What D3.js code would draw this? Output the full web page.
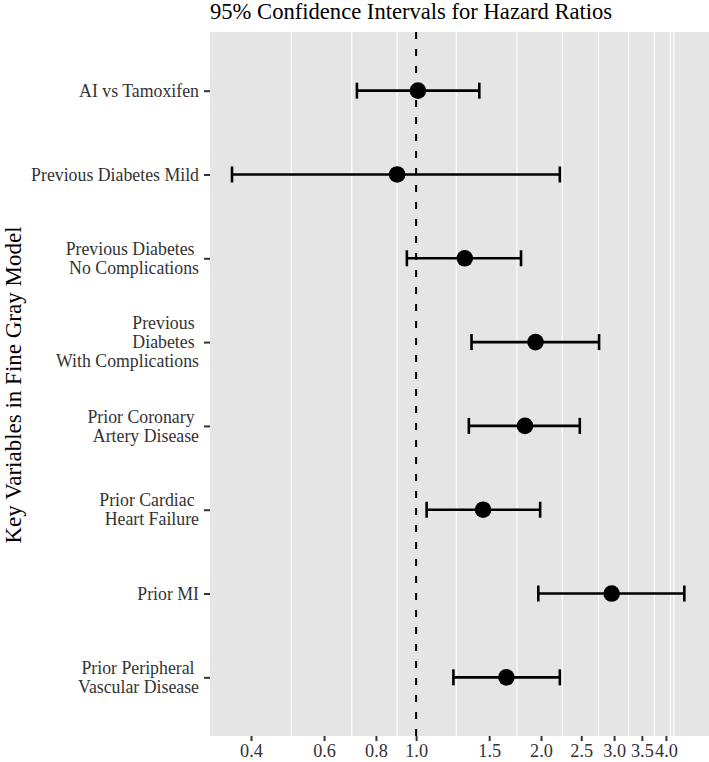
<!DOCTYPE html>
<html>
<head>
<meta charset="utf-8">
<script src="https://cdn.jsdelivr.net/npm/d3@7"></script>
<style>
  html, body { margin: 0; padding: 0; background: #fff; }
  svg { display: block; }
  text { font-family: "Liberation Serif", "Times New Roman", serif; }
</style>
</head>
<body>
<div id="chart"></div>
<script>
// Variables in the model (top to bottom); "\n" splits lines
const variables = [
  'AI vs Tamoxifen',
  'Previous Diabetes Mild',
  'Previous Diabetes \nNo Complications',
  'Previous \nDiabetes \nWith Complications',
  'Prior Coronary \nArtery Disease',
  'Prior Cardiac \nHeart Failure',
  'Prior MI',
  'Prior Peripheral \nVascular Disease'
];

// hazard ratio and 95% CI
const hazardRatio = [1.01, 0.90, 1.31, 1.94, 1.83, 1.45, 2.96, 1.65];
const ciLower     = [0.72, 0.36, 0.95, 1.36, 1.34, 1.06, 1.97, 1.23];
const ciUpper     = [1.42, 2.22, 1.79, 2.76, 2.48, 1.99, 4.43, 2.22];

// x axis
const xTicks = [0.4, 0.6, 0.8, 1.0, 1.5, 2.0, 2.5, 3.0, 3.5, 4.0];
const xGrid = [0.5, 0.7, 0.9, 1.25, 1.75, 2.25, 2.75, 3.25, 3.75, 4.1, 4.18];
const xDomain = [0.3186, 5.08];
const refLine = 1;

const width = 709, height = 762;
const margin = { top: 32, right: 0, bottom: 26, left: 210 };
const serif = '"Liberation Serif", "Times New Roman", serif';

const svg = d3.select('#chart').append('svg')
  .attr('width', width)
  .attr('height', height);

const x = d3.scaleLog()
  .domain(xDomain)
  .range([margin.left, width - margin.right]);

const y = d3.scalePoint()
  .domain(variables)
  .range([margin.top, height - margin.bottom])
  .padding(0.7);

// panel background
svg.append('rect')
  .attr('x', margin.left)
  .attr('y', margin.top)
  .attr('width', width - margin.right - margin.left)
  .attr('height', height - margin.bottom - margin.top)
  .attr('fill', '#e5e5e5');

// grid lines
svg.append('g')
  .selectAll('line')
  .data(xGrid)
  .join('line')
  .attr('x1', d => x(d))
  .attr('x2', d => x(d))
  .attr('y1', margin.top)
  .attr('y2', height - margin.bottom)
  .attr('stroke', '#fff')
  .attr('stroke-width', 1.1);

// reference line at HR = 1
svg.append('line')
  .attr('x1', x(refLine))
  .attr('x2', x(refLine))
  .attr('y1', margin.top)
  .attr('y2', height - margin.bottom)
  .attr('stroke', '#000')
  .attr('stroke-width', 2)
  .attr('stroke-dasharray', '7 10');

const rows = variables.map((v, i) => ({
  name: v, hr: hazardRatio[i], lo: ciLower[i], hi: ciUpper[i]
}));

const capH = 8;
const bars = svg.append('g')
  .attr('stroke', '#000')
  .attr('stroke-width', 2.6);

bars.selectAll('.ci')
  .data(rows)
  .join('line')
  .attr('class', 'ci')
  .attr('x1', d => x(d.lo))
  .attr('x2', d => x(d.hi))
  .attr('y1', d => y(d.name))
  .attr('y2', d => y(d.name));

bars.selectAll('.capL')
  .data(rows)
  .join('line')
  .attr('class', 'capL')
  .attr('x1', d => x(d.lo))
  .attr('x2', d => x(d.lo))
  .attr('y1', d => y(d.name) - capH)
  .attr('y2', d => y(d.name) + capH);

bars.selectAll('.capR')
  .data(rows)
  .join('line')
  .attr('class', 'capR')
  .attr('x1', d => x(d.hi))
  .attr('x2', d => x(d.hi))
  .attr('y1', d => y(d.name) - capH)
  .attr('y2', d => y(d.name) + capH);

svg.append('g')
  .selectAll('circle')
  .data(rows)
  .join('circle')
  .attr('cx', d => x(d.hr))
  .attr('cy', d => y(d.name))
  .attr('r', 8.3)
  .attr('fill', '#000');

// x axis
const xAxis = svg.append('g')
  .attr('transform', `translate(0,${height - margin.bottom})`)
  .call(d3.axisBottom(x)
    .tickValues(xTicks)
    .tickFormat(d3.format('.1f'))
    .tickSize(5)
    .tickPadding(3));
xAxis.attr('font-family', serif).attr('font-size', 18.3);
xAxis.select('.domain').remove();
xAxis.selectAll('.tick line').attr('stroke', '#333').attr('stroke-width', 2);
xAxis.selectAll('.tick text').attr('fill', '#333');

// y axis with multi-line labels
const yAxis = svg.append('g')
  .attr('transform', `translate(${margin.left},0)`)
  .call(d3.axisLeft(y).tickSize(6).tickPadding(5));
yAxis.attr('font-family', serif).attr('font-size', 17.8);
yAxis.select('.domain').remove();
yAxis.selectAll('.tick line').attr('stroke', '#333').attr('stroke-width', 2);
yAxis.selectAll('.tick text')
  .attr('fill', '#333')
  .style('white-space', 'pre')
  .each(function(d) {
    const t = d3.select(this);
    const lines = d.split('\n');
    const lh = 19;
    t.text(null).attr('dy', null);
    lines.forEach((ln, k) => {
      t.append('tspan')
        .attr('x', -11)
        .attr('y', (k - (lines.length - 1) / 2) * lh)
        .attr('dy', '0.32em')
        .text(ln);
    });
  });

// title
svg.append('text')
  .attr('x', margin.left)
  .attr('y', 19)
  .attr('fill', '#000')
  .attr('font-family', serif)
  .attr('font-size', 22.6)
  .text('95% Confidence Intervals for Hazard Ratios');

// y axis title
svg.append('text')
  .attr('transform', 'translate(21,385) rotate(-90)')
  .attr('text-anchor', 'middle')
  .attr('fill', '#000')
  .attr('font-family', serif)
  .attr('font-size', 23)
  .text('Key Variables in Fine Gray Model');
</script>
</body>
</html>
